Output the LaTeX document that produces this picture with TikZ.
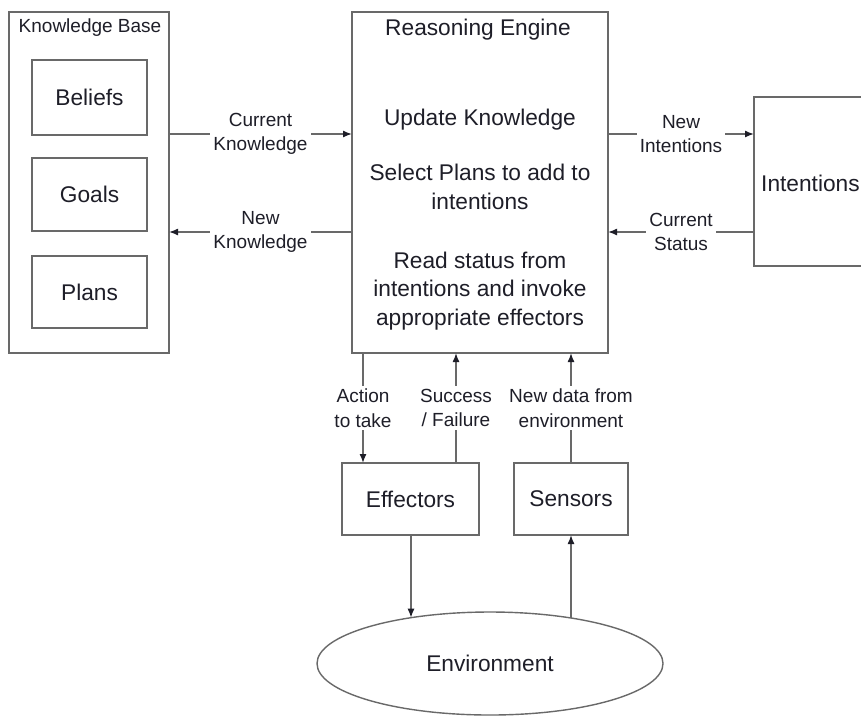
\documentclass[tikz,border=0pt]{standalone}
\usepackage{fontspec}
\setmainfont{Liberation Sans}
\usetikzlibrary{arrows.meta,shapes.geometric}
\definecolor{edge}{RGB}{105,105,105}
\definecolor{ink}{RGB}{30,30,40}
\begin{document}
\begin{tikzpicture}[x=1pt,y=-1pt,
  box/.style={draw=edge,line width=1.4pt,inner sep=0pt,outer sep=0pt,rectangle},
  big/.style={font=\fontsize{22.7}{28.5}\selectfont,text=ink,align=center},
  small/.style={font=\fontsize{19}{24.5}\selectfont,text=ink,align=center},
  lbl/.style={small,fill=white,inner sep=3pt},
  flow/.style={draw=edge,line width=1.4pt,-{Latex[length=9pt,width=7pt,color=ink]}}]
\clip (0,0) rectangle (861,716);
\fill[white] (0,0) rectangle (861,716);

% knowledge base with its three stores
\node[box,minimum width=160pt,minimum height=341pt] (kb) at (89,182.5) {};
\node[small] (kbt) at (90,28) {Knowledge Base};
\node[box,big,minimum width=115pt,minimum height=75pt] (bel) at (89.5,97.5) {Beliefs};
\node[box,big,minimum width=115pt,minimum height=73pt] (goa) at (89.5,194.5) {Goals};
\node[box,big,minimum width=115pt,minimum height=72pt] (pla) at (89.5,292) {Plans};

% reasoning engine
\node[box,minimum width=256pt,minimum height=341pt] (re) at (480,182.5) {};
\node[big] (ret) at (478,30) {Reasoning Engine};
\node[big] (upd) at (480,120) {Update Knowledge};
\node[big] (sel) at (480,187) {Select Plans to add to\\intentions};
\node[big] (rd) at (480,291) {Read status from\\intentions and invoke\\appropriate effectors};

% intentions (runs off the right edge)
\node[box,minimum width=146pt,minimum height=169pt] (int) at (827,181.5) {};
\node[big,anchor=west,inner sep=0pt] (intt) at (761,183) {Intentions};

% effectors, sensors, environment
\node[box,big,minimum width=137pt,minimum height=72pt] (eff) at (410.5,499) {Effectors};
\node[box,big,minimum width=114pt,minimum height=72pt] (sen) at (571,499) {Sensors};
\node[ellipse,draw=edge,line width=1.4pt,inner sep=0pt,outer sep=0pt,
      minimum width=346pt,minimum height=103pt,big] (env) at (490,663.5) {Environment};

% rows and columns of the connectors
\coordinate (ya) at (0,134);
\coordinate (yb) at (0,232);
\coordinate (xa) at (363,0);
\coordinate (xs) at (456,0);
\coordinate (xe) at (411,0);

% horizontal flows
\draw[flow] (kb.east |- ya) -- node[lbl] {Current\\Knowledge} (re.west |- ya);
\draw[flow] (re.west |- yb) -- node[lbl] {New\\Knowledge} (kb.east |- yb);
\draw[flow] (re.east |- ya) -- node[lbl] {New\\Intentions} (int.west |- ya);
\draw[flow] (int.west |- yb) -- node[lbl] {Current\\Status} (re.east |- yb);

% vertical flows
\draw[flow] (re.south -| xa) -- node[lbl] {Action\\to take} (eff.north -| xa);
\draw[flow] (eff.north -| xs) -- node[lbl] {Success\\/ Failure} (re.south -| xs);
\draw[flow] (sen.north) -- node[lbl] {New data from\\environment} (re.south -| sen.north);
\draw[flow] (eff.south -| xe) -- (env.150 -| xe);
\draw[flow] (sen.south |- env.30) -- (sen.south);
\end{tikzpicture}
\end{document}
